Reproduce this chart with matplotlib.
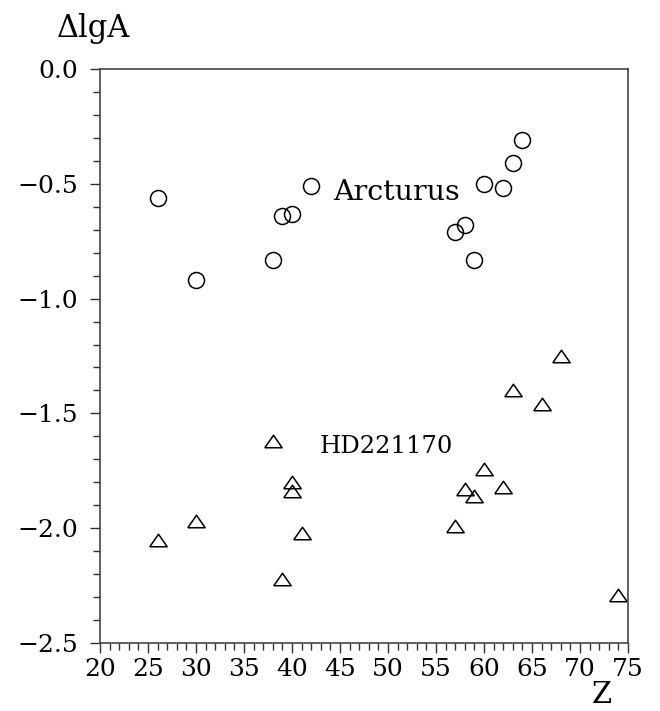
import matplotlib
matplotlib.use("Agg")
import matplotlib.pyplot as plt
from matplotlib.ticker import MultipleLocator, FuncFormatter

plt.rcParams["font.family"] = ["DejaVu Serif"]

# Arcturus
arc_z = [26, 30, 38, 39, 40, 42, 57, 58, 59, 60, 62, 63, 64]
arc_dlga = [-0.56, -0.92, -0.83, -0.64, -0.63, -0.51, -0.71, -0.68, -0.83, -0.50, -0.52, -0.41, -0.31]

# HD221170
hd_z = [26, 30, 38, 39, 40, 40, 41, 57, 58, 59, 60, 62, 63, 66, 68, 74]
hd_dlga = [-2.05, -1.97, -1.62, -2.22, -1.80, -1.84, -2.02, -1.99, -1.83, -1.86, -1.74, -1.82, -1.40, -1.46, -1.25, -2.29]

fig = plt.figure(figsize=(6.6, 7.11), dpi=100)
ax = fig.add_axes([0.1515, 0.0956, 0.80, 0.8074])

tri = [(-1, -0.72), (1, -0.72), (0, 0.72), (-1, -0.72)]
ax.plot(arc_z, arc_dlga, linestyle="none", marker="o", markersize=11.5,
        markerfacecolor="none", markeredgecolor="black", markeredgewidth=1.1)
ax.plot(hd_z, hd_dlga, linestyle="none", marker=tri, markersize=12.5,
        markerfacecolor="none", markeredgecolor="black", markeredgewidth=1.1)

ax.text(44.3, -0.537, "Arcturus", fontsize=20.5, va="center", ha="left")
ax.text(42.9, -1.645, "HD221170", fontsize=17.5, va="center", ha="left")

ax.set_xlim(20, 75)
ax.set_ylim(-2.5, 0.0)
ax.xaxis.set_major_locator(MultipleLocator(5))
ax.xaxis.set_minor_locator(MultipleLocator(1))
ax.yaxis.set_major_locator(MultipleLocator(0.5))
ax.yaxis.set_minor_locator(MultipleLocator(0.1))
ax.yaxis.set_major_formatter(FuncFormatter(
    lambda v, p: ("\u2212" if v < -1e-9 else "") + "%.1f" % abs(v)))

ax.tick_params(which="major", direction="out", length=7.5, width=1, color="#333333",
               labelsize=18)
ax.tick_params(which="minor", direction="out", length=5, width=1, color="#333333")
ax.tick_params(axis="x", which="major", pad=3)
ax.tick_params(axis="y", which="major", pad=8)
ax.tick_params(top=False, right=False)

for s in ax.spines.values():
    s.set_color("#444444")
    s.set_linewidth(1.2)

fig.text(57 / 660, 1 - 37 / 711, "ΔlgA", fontsize=22, va="baseline", ha="left")
fig.text(602 / 660, 1 - 709 / 711, "Z", fontsize=21, va="bottom", ha="center")

fig.savefig("out.png", dpi=100)
